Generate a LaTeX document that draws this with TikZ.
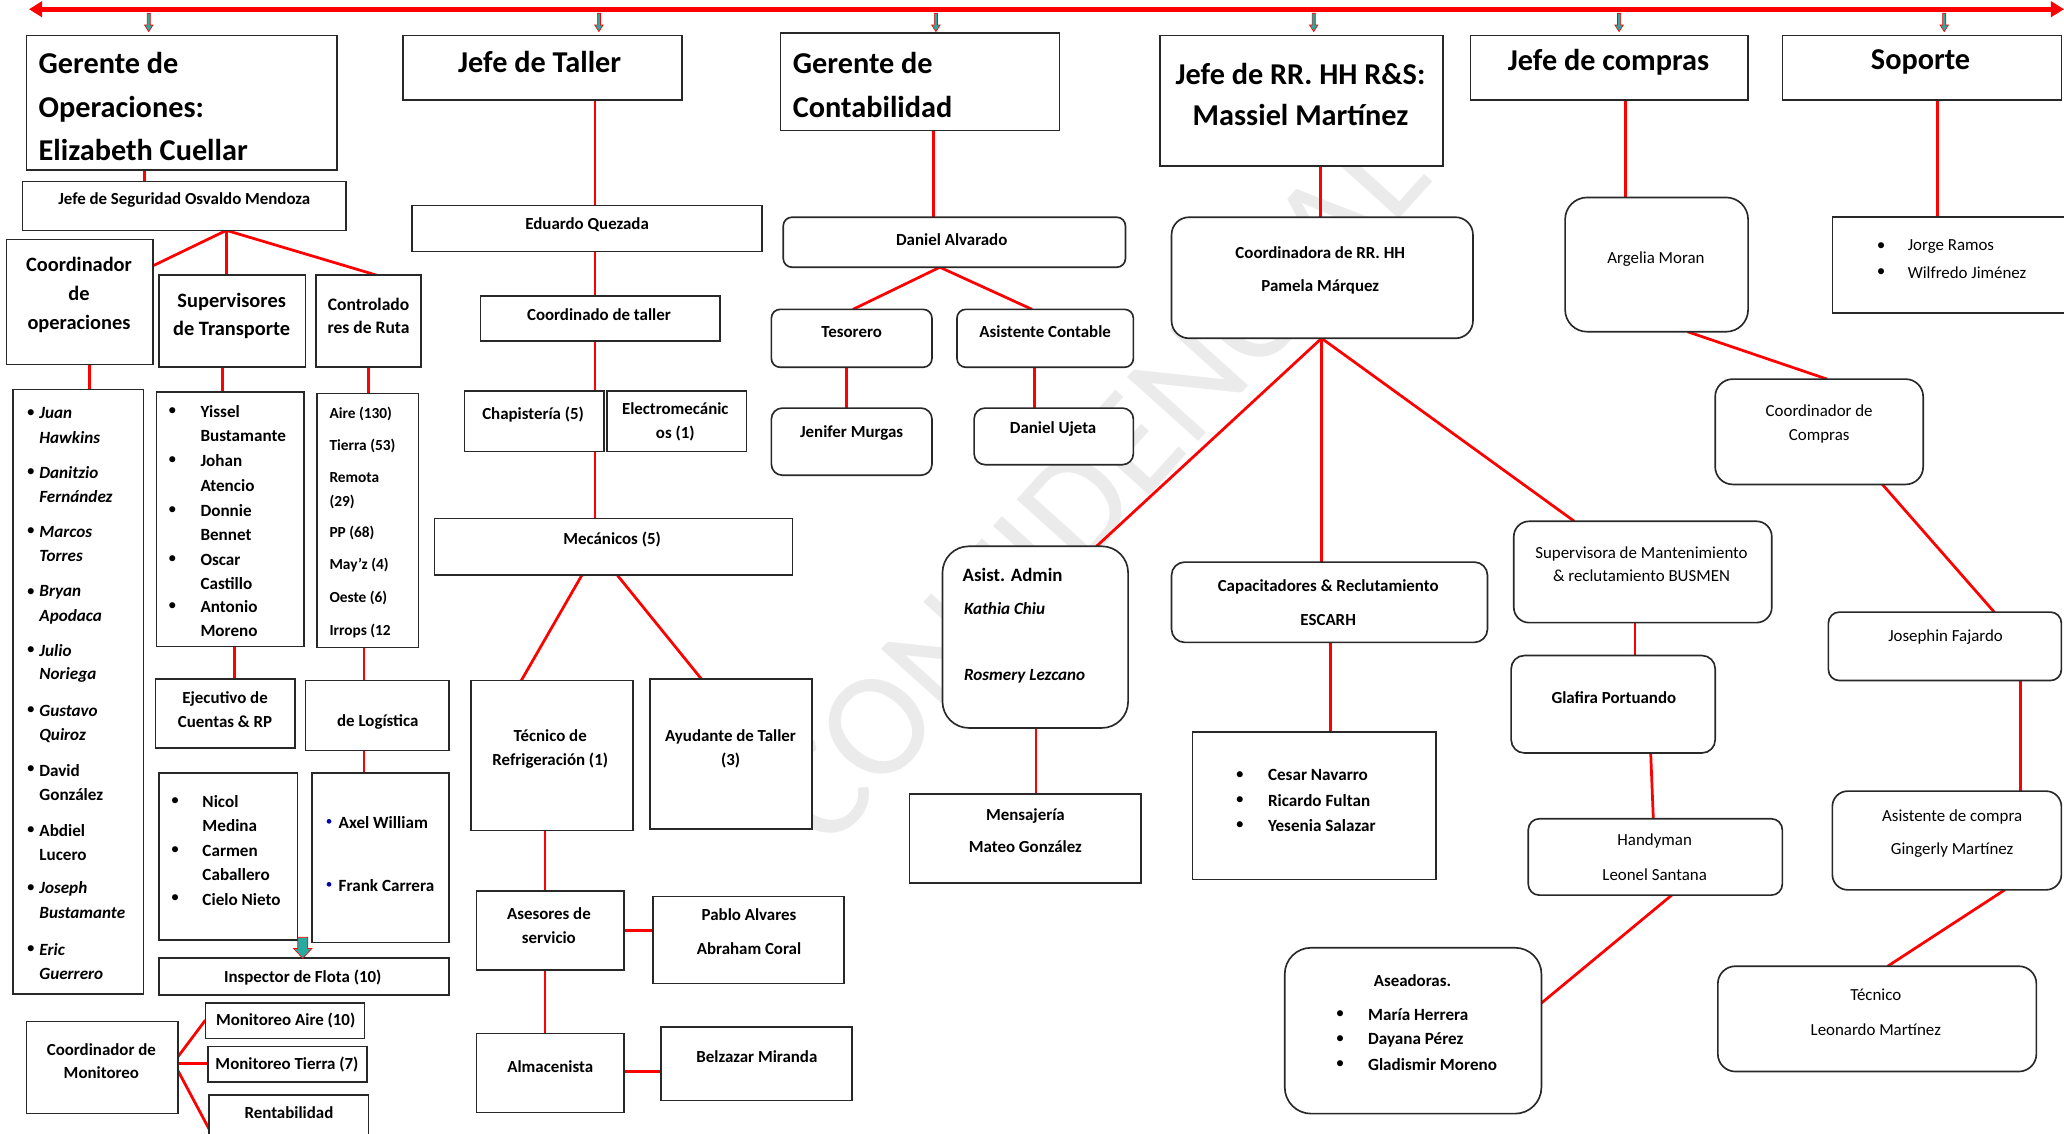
\documentclass[tikz,border=0pt]{standalone}
\usepackage{fontspec}
\setmainfont{Carlito}
\usetikzlibrary{fit,arrows.meta}
\definecolor{tealarr}{RGB}{40,170,160}
\definecolor{boxline}{RGB}{40,40,40}
\pgfdeclarelayer{wm}
\pgfdeclarelayer{bg}
\pgfsetlayers{wm,bg,main}
\newcommand\bx[6][box]{\node[#1, fit={(#3,#4) (#5,#6)}] (#2) {};}
\newcommand\dnarrow[6]{%
  \filldraw[draw=red, fill=tealarr, line width=0.3pt] ({#1-#4},#2) -- ({#1+#4},#2) -- ({#1+#4},{#3-#6}) -- ({#1+#5},{#3-#6}) -- (#1,#3) -- ({#1-#5},{#3-#6}) -- ({#1-#4},{#3-#6}) -- cycle;}
\begin{document}
\begin{tikzpicture}[x=0.6pt,y=-0.6pt,
  box/.style={draw=boxline, line width=0.75pt, fill=white, inner sep=0pt, outer sep=0pt},
  rbox/.style={box, rounded corners=#1}, rbox/.default=5pt,
  link/.style={draw=red, line width=1.25pt},
  topline/.style={draw=red, line width=2.2pt, {Triangle[length=6pt,width=7pt]}-{Triangle[length=6pt,width=7pt]}},
  T/.style={inner sep=0pt, align=center, font=\fontsize{7.7}{#1}\selectfont\bfseries}, T/.default=11.2pt,
  TR/.style={inner sep=0pt, align=center, font=\fontsize{7.7}{#1}\selectfont}, TR/.default=11.2pt,
  big/.style={inner sep=0pt, align=left, anchor=west, font=\fontsize{13.8}{19.8}\selectfont\bfseries},
  bigc/.style={inner sep=0pt, align=center, font=\fontsize{13.8}{18.6}\selectfont\bfseries},
  med/.style={inner sep=0pt, align=center, font=\fontsize{9.3}{13.2}\selectfont\bfseries},
  L/.style={inner sep=0pt, anchor=west, font=\fontsize{7.8}{9}\selectfont\bfseries},
  LI/.style={L, font=\fontsize{7.8}{9}\selectfont\bfseries\itshape},
  LR/.style={L, font=\fontsize{7.7}{9}\selectfont},
  bul/.style={inner sep=0pt, font=\fontsize{7.8}{9}\selectfont}
]
\useasboundingbox (0,0) rectangle (1568,861);
\begin{pgfonlayer}{wm}
\fill[white] (0,0) rectangle (1568,861);
\node[rotate=48, text=black!8, font=\fontsize{68}{68}\selectfont, inner sep=0pt] (wm) at (832,368) {CONFIDENCIAL};
\end{pgfonlayer}

% top line and arrows
\coordinate (tl) at (22,7);
\coordinate (tr) at (1568,7);
\draw[topline] (tl) -- (tr);
\foreach \xx in {113,455,711,998,1230,1477} {\dnarrow{\xx}{10}{24}{1.2}{3.2}{5}}

% ===== Column 1: Operaciones =====
\bx{gop}{20}{27}{256}{129}
\node[big] (t1) at (29,81) {Gerente de\\Operaciones:\\Elizabeth Cuellar};
\bx{seg}{17}{138}{263}{175}
\node[T] (t2) at (140,152) {Jefe de Seguridad Osvaldo Mendoza};
\bx{cop}{5}{182}{116}{277}
\node[med] (t3) at (60,224) {Coordinador\\de\\operaciones};
\bx{sup}{121}{209}{232}{279}
\node[med] (t4) at (176,240) {Supervisores\\de Transporte};
\bx{ctl}{240}{209}{320}{279}
\node[inner sep=0pt, align=center, font=\fontsize{8}{10.6}\selectfont\bfseries] (t5) at (280,240) {Controlado\\res de Ruta};

\bx{clist}{10}{296}{109}{755}
\foreach \yy/\aa/\bb [count=\i] in {314/Juan/Hawkins, 359/Danitzio/Fernández, 404/Marcos/Torres, 450/Bryan/Apodaca, 494/Julio/Noriega, 540/Gustavo/Quiroz, 675/Joseph/Bustamante, 721/Eric/Guerrero} {
  \node[LI] (ca\i) at (29.6,\yy) {\aa};
  \node[LI] (cb\i) at (29.6,\yy+18.5) {\bb};
  \node[bul] (cc\i) at (23.5,\yy) {\textbullet};
}
\foreach \yy/\aa/\bb [count=\i] in {585/David/González, 631/Abdiel/Lucero} {
  \node[L] (cd\i) at (29.6,\yy) {\aa};
  \node[L] (ce\i) at (29.6,\yy+18.5) {\bb};
  \node[bul] (cf\i) at (23.5,\yy) {\textbullet};
}

\bx{slist}{119}{298}{231}{491}
\foreach \yy/\aa/\bb [count=\i] in {313/Yissel/Bustamante, 350/Johan/Atencio, 388/Donnie/Bennet, 425/Oscar/Castillo, 461/Antonio/Moreno} {
  \node[L] (sa\i) at (152,\yy) {\aa};
  \node[L] (sb\i) at (152,\yy+18.5) {\bb};
  \node[bul] (sc\i) at (131,\yy) {\textbullet};
}

\bx{ctlist}{241}{299}{318}{492}
\foreach \yy/\aa [count=\i] in {314.5/Aire (130), 339/Tierra (53), 363/Remota, 381/(29), 405/PP (68), 429/May’z (4), 454/Oeste (6), 479/Irrops (12} {
  \node[inner sep=0pt, anchor=west, font=\fontsize{7}{8}\selectfont\bfseries] (ct\i) at (250,\yy) {\aa};
}

\bx{ejec}{118}{516}{224}{568}
\node[T] (t6) at (171,539) {Ejecutivo de\\Cuentas \& RP};
\bx{logi}{232}{517}{341}{570}
\node[T] (t7) at (287,548.5) {de Logística};

\bx{nicol}{121}{587}{226}{714}
\node[bul] (nb1) at (133,609) {\textbullet};
\node[L] (n1) at (153.5,609) {Nicol};
\node[L] (n2) at (153.5,627) {Medina};
\node[bul] (nb2) at (133,646.5) {\textbullet};
\node[L] (n3) at (153.5,646.5) {Carmen};
\node[L] (n4) at (153.5,664) {Caballero};
\node[bul] (nb3) at (133,683) {\textbullet};
\node[L] (n5) at (153.5,683) {Cielo Nieto};

\bx{axel}{237}{587}{341}{716}
\node[inner sep=0pt, font=\fontsize{6}{7}\selectfont, text=blue!70!black] (ab1) at (250,625) {\textbullet};
\node[L] (a1) at (257,625) {Axel William};
\node[inner sep=0pt, font=\fontsize{6}{7}\selectfont, text=blue!70!black] (ab2) at (250,673) {\textbullet};
\node[L] (a2) at (257,673) {Frank Carrera};

\bx{insp}{121}{728}{341}{756}
\node[T] (t8) at (230,743) {Inspector de Flota (10)};
\dnarrow{230}{712}{728}{3.8}{7}{7.5}

\bx{cmon}{20}{776}{135}{846}
\node[T=10.5pt] (t9) at (77,806) {Coordinador de\\Monitoreo};
\bx{maire}{156}{762}{277}{789}
\node[T] (t10) at (217,775) {Monitoreo Aire (10)};
\bx{mtier}{158}{795}{279}{822}
\node[T] (t11) at (218,809) {Monitoreo Tierra (7)};
\bx{rent}{159}{832}{280}{880}
\node[T] (t12) at (219.5,845.5) {Rentabilidad};

% ===== Column 2: Taller =====
\bx{jt}{306}{27}{518}{76}
\node[bigc] (t13) at (410,47) {Jefe de Taller};
\bx{eq}{313}{156}{579}{191}
\node[T] (t14) at (446,171) {Eduardo Quezada};
\bx{ct}{365}{225}{547}{259}
\node[T] (t15) at (455,239) {Coordinado de taller};
\bx{chap}{353}{297}{459}{343}
\node[T] (t16) at (405,315) {Chapistería (5)};
\bx{elec}{461}{297}{567}{343}
\node[T] (t17) at (513,320.5) {Electromecánic\\os (1)};
\bx{mec}{330}{394}{602}{437}
\node[T] (t18) at (465,410) {Mecánicos (5)};
\bx{tec}{358}{517}{481}{631}
\node[T=10.8pt] (t19) at (418,569) {Técnico de\\Refrigeración (1)};
\bx{ayu}{494}{516}{617}{630}
\node[T=10.8pt] (t20) at (555,569) {Ayudante de Taller\\(3)};
\bx{ase}{362}{677}{474}{737}
\node[T=10.8pt] (t21) at (417,703) {Asesores de\\servicio};
\bx{pab}{496}{681}{641}{747}
\node[T=15.6pt] (t22) at (569,708) {Pablo Alvares\\Abraham Coral};
\bx{alm}{362}{785}{474}{845}
\node[T] (t23) at (418,810) {Almacenista};
\bx{bel}{502}{780}{647}{836}
\node[T] (t24) at (575,803) {Belzazar Miranda};

% ===== Column 3: Contabilidad =====
\bx{gc}{593}{25}{805}{99}
\node[big] (t25) at (602,64.5) {Gerente de\\Contabilidad};
\bx[rbox=4pt]{da}{595}{165}{855}{203}
\node[T] (t26) at (723,182) {Daniel Alvarado};
\bx[rbox=4pt]{tes}{586}{235}{708}{279}
\node[T] (t27) at (647,252) {Tesorero};
\bx[rbox=4pt]{asc}{727}{235}{861}{279}
\node[T] (t28) at (794,252) {Asistente Contable};
\bx[rbox=5pt]{jen}{586}{310}{708}{361}
\node[T] (t29) at (647,329) {Jenifer Murgas};
\bx[rbox=5pt]{du}{740}{310}{861}{353}
\node[T] (t30) at (800,326) {Daniel Ujeta};

% ===== Column 4: RR. HH =====
\bx{jrh}{881}{27}{1096}{126}
\node[bigc] (t31) at (988,71.5) {Jefe de RR. HH R\&S:\\Massiel Martínez};
\bx[rbox=8pt]{crh}{890}{165}{1119}{257}
\node[T=15pt] (t32) at (1003,205.5) {Coordinadora de RR. HH\\Pamela Márquez};
\bx[rbox=12pt]{asis}{716}{415}{857}{553}
\node[inner sep=0pt, anchor=west, font=\fontsize{8.6}{10}\selectfont\bfseries] (t33) at (731,437) {Asist. Admin};
\node[LI] (t34) at (732,462) {Kathia Chiu};
\node[LI] (t35) at (732,513.5) {Rosmery Lezcano};
\bx{mens}{691}{603}{867}{671}
\node[T=15pt] (t36) at (779,631) {Mensajería\\Mateo González};
\bx[rbox=6pt]{cap}{890}{427}{1130}{488}
\node[T=15.6pt] (t37) at (1009,458) {Capacitadores \& Reclutamiento\\ESCARH};
\bx{ces}{906}{556}{1091}{668}
\foreach \yy/\aa [count=\i] in {589/Cesar Navarro, 608/Ricardo Fultan, 627/Yesenia Salazar} {
  \node[bul] (eb\i) at (942,\yy) {\textbullet};
  \node[L] (e\i) at (963,\yy) {\aa};
}

% ===== Column 5: Compras / BUSMEN =====
\bx{jc}{1117}{27}{1328}{76}
\node[bigc] (t38) at (1222,47) {Jefe de compras};
\bx[rbox=10pt]{arg}{1189}{150}{1328}{252}
\node[TR] (t39) at (1258,197) {Argelia Moran};
\bx[rbox=8pt]{cc}{1303}{288}{1461}{368}
\node[TR=10.8pt] (t40) at (1382,322) {Coordinador de\\Compras};
\bx[rbox=5pt]{jf}{1389}{465}{1566}{517}
\node[TR] (t41) at (1478,484) {Josephin Fajardo};
\bx[rbox=7pt]{ac}{1392}{601}{1566}{676}
\node[TR=15pt] (t42) at (1483,633.5) {Asistente de compra\\Gingerly Martínez};
\bx[rbox=8pt]{tecn}{1305}{734}{1547}{814}
\node[TR=15.6pt] (t43) at (1425,769) {Técnico\\Leonardo Martínez};
\bx[rbox=7pt]{sup2}{1150}{396}{1346}{473}
\node[TR=10.2pt] (t44) at (1247,428.5) {Supervisora de Mantenimiento\\\& reclutamiento BUSMEN};
\bx[rbox=6pt]{gla}{1148}{498}{1303}{572}
\node[T] (t45) at (1226,530) {Glafira Portuando};
\bx[rbox=5pt]{hand}{1161}{622}{1354}{680}
\node[TR=16pt] (t46) at (1257,651.5) {Handyman\\Leonel Santana};
\bx[rbox=12pt]{asea}{976}{720}{1171}{846}
\node[T] (t47) at (1073,745) {Aseadoras.};
\foreach \yy/\aa [count=\i] in {771/María Herrera, 790/Dayana Pérez, 809/Gladismir Moreno} {
  \node[bul] (hb\i) at (1018,\yy) {\textbullet};
  \node[L] (h\i) at (1039,\yy) {\aa};
}

% ===== Column 6: Soporte =====
\bx{sop}{1354}{27}{1566}{76}
\node[bigc] (t48) at (1459,47) {Soporte};
\bx{jor}{1392}{165}{1570}{238}
\node[bul] (jb1) at (1429,187) {\textbullet};
\node[LR] (j1) at (1449,187) {Jorge Ramos};
\node[bul] (jb2) at (1429,207) {\textbullet};
\node[LR] (j2) at (1449,207) {Wilfredo Jiménez};

% ===== Connectors =====
\begin{pgfonlayer}{bg}
\draw[link] (gop.south -| 110,0) -- (seg.north -| 110,0);
\draw[link] (seg.south -| 172,0) -- (cop.east |- 0,202);
\draw[link] (seg.south -| 172,0) -- (sup.north -| 172,0);
\draw[link] (seg.south -| 172,0) -- (ctl.north -| 286,0);
\draw[link] (cop.south -| 68,0) -- (clist.north -| 68,0);
\draw[link] (sup.south -| 169,0) -- (slist.north -| 169,0);
\draw[link] (ctl.south -| 280,0) -- (ctlist.north -| 280,0);
\draw[link] (slist.south -| 178,0) -- (ejec.north -| 178,0);
\draw[link] (ctlist.south -| 276.5,0) -- (logi.north -| 276.5,0);
\draw[link] (logi.south -| 276.5,0) -- (axel.north -| 276.5,0);
\draw[link] (cmon.east |- 0,803) -- (maire.west |- 0,775);
\draw[link] (cmon.east |- 0,808) -- (mtier.west |- 0,808);
\draw[link] (cmon.east |- 0,813) -- (rent.west |- 0,858);

\draw[link] (jt.south -| 452,0) -- (eq.north -| 452,0);
\draw[link] (eq.south -| 452,0) -- (ct.north -| 452,0);
\draw[link] (ct.south -| 452,0) -- (chap.north -| 452,0);
\draw[link] (chap.south -| 452,0) -- (mec.north -| 452,0);
\draw[link] (mec.south -| 442,0) -- (tec.north -| 396,0);
\draw[link] (mec.south -| 469,0) -- (ayu.north -| 533,0);
\draw[link] (tec.south -| 414,0) -- (ase.north -| 414,0);
\draw[link] (ase.east |- 0,707) -- (pab.west |- 0,707);
\draw[link] (ase.south -| 414,0) -- (alm.north -| 414,0);
\draw[link] (alm.east |- 0,814) -- (bel.west |- 0,814);

\draw[link] (gc.south -| 709,0) -- (da.north -| 709,0);
\draw[link] (da.south -| 714,0) -- (tes.north -| 648,0);
\draw[link] (da.south -| 714,0) -- (asc.north -| 784,0);
\draw[link] (tes.south -| 643,0) -- (jen.north -| 643,0);
\draw[link] (asc.south -| 786,0) -- (du.north -| 786,0);

\draw[link] (jrh.south -| 1003,0) -- (crh.north -| 1003,0);
\draw[link] (crh.south -| 1004,0) -- (asis.north -| 833,0);
\draw[link] (crh.south -| 1004,0) -- (cap.north -| 1004,0);
\draw[link] (crh.south -| 1004,0) -- (sup2.north -| 1196,0);
\draw[link] (asis.south -| 787,0) -- (mens.north -| 787,0);
\draw[link] (cap.south -| 1011,0) -- (ces.north -| 1011,0);

\draw[link] (jc.south -| 1235,0) -- (arg.north -| 1235,0);
\draw[link] (arg.south -| 1282,0) -- (cc.north -| 1388,0);
\draw[link] (cc.south -| 1430,0) -- (jf.north -| 1515,0);
\draw[link] (jf.south -| 1535,0) -- (ac.north -| 1535,0);
\draw[link] (ac.south -| 1523,0) -- (tecn.north -| 1434,0);
\draw[link] (sup2.south -| 1242,0) -- (gla.north -| 1242,0);
\draw[link] (gla.south -| 1254,0) -- (hand.north -| 1256,0);
\draw[link] (hand.south -| 1270,0) -- (asea.east |- 0,762);

\draw[link] (sop.south -| 1472,0) -- (jor.north -| 1472,0);
\end{pgfonlayer}
\end{tikzpicture}
\end{document}
